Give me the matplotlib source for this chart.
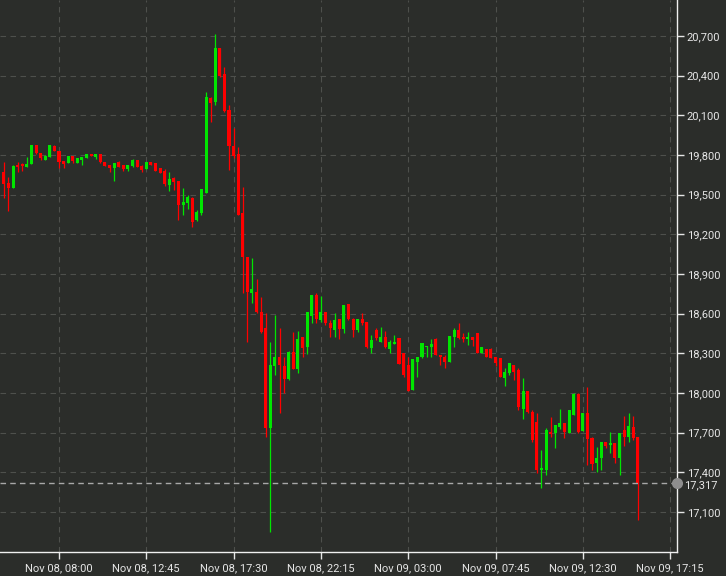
import matplotlib
matplotlib.use('Agg')
import matplotlib.pyplot as plt
import matplotlib.transforms as mtransforms
import numpy as np
import pandas as pd

# 15-minute candles, Nov 08 05:00 onwards
start = '2023-11-08 05:00'
opens = [19673, 19590, 19552, 19724, 19729, 19711, 19729, 19875, 19817, 19762, 19787, 19868,
         19832, 19757, 19737, 19794, 19737, 19760, 19775, 19805, 19787, 19805, 19749, 19724,
         19704, 19745, 19724, 19692, 19717, 19762, 19717, 19692, 19747, 19737, 19699, 19681,
         19573, 19624, 19605, 19422, 19439, 19472, 19308, 19359, 19510, 20229, 20203, 20607,
         20410, 20140, 19868, 19807, 19359, 19031, 18758, 18766, 18615, 18489, 17733, 18204,
         18274, 18204, 18103, 18312, 18179, 18421, 18345, 18582, 18741, 18552, 18615, 18527,
         18476, 18557, 18481, 18673, 18557, 18476, 18557, 18539, 18338, 18476, 18388, 18426,
         18330, 18370, 18413, 18300, 18212, 18022, 18237, 18270, 18345, 18345, 18406, 18287,
         18274, 18237, 18426, 18476, 18426, 18406, 18421, 18451, 18305, 18330, 18330, 18270,
         18262, 18111, 18149, 18212, 18174, 17876, 18017, 17859, 17783, 17417, 17417, 17707,
         17695, 17745, 17775, 17695, 17833, 17992, 17715, 17846, 17659, 17468, 17506, 17631,
         17607, 17619, 17506, 17720, 17667, 17743, 17669]
highs = [19749, 19636, 19724, 19745, 19737, 19782, 19875, 19875, 19817, 19800, 19875, 19875,
         19832, 19757, 19794, 19794, 19779, 19782, 19805, 19805, 19805, 19805, 19749, 19724,
         19742, 19757, 19724, 19724, 19767, 19762, 19724, 19747, 19747, 19737, 19699, 19692,
         19673, 19636, 19605, 19548, 19497, 19484, 19384, 19543, 20279, 20241, 20715, 20607,
         20468, 20178, 20002, 19858, 19560, 19031, 19019, 18860, 18728, 18602, 18388, 18590,
         18489, 18270, 18320, 18463, 18469, 18426, 18615, 18741, 18758, 18733, 18615, 18552,
         18602, 18557, 18665, 18673, 18565, 18557, 18602, 18539, 18438, 18491, 18497, 18471,
         18401, 18438, 18413, 18300, 18274, 18255, 18270, 18376, 18355, 18406, 18413, 18287,
         18287, 18431, 18489, 18531, 18451, 18463, 18421, 18451, 18345, 18330, 18338, 18270,
         18262, 18187, 18224, 18212, 18187, 18111, 18017, 17871, 17849, 17569, 17733, 17820,
         17758, 17876, 17775, 17871, 17998, 17998, 17846, 18043, 17667, 17594, 17631, 17631,
         17707, 17619, 17695, 17826, 17846, 17826, 17669]
lows = [19472, 19376, 19552, 19673, 19679, 19711, 19729, 19805, 19762, 19762, 19782, 19830,
        19699, 19699, 19737, 19742, 19737, 19724, 19775, 19794, 19770, 19737, 19717, 19673,
        19603, 19711, 19681, 19681, 19707, 19707, 19673, 19692, 19726, 19681, 19666, 19565,
        19530, 19535, 19308, 19346, 19389, 19257, 19303, 19346, 19510, 20052, 20178, 20392,
        20127, 19686, 19775, 19346, 18754, 18388, 18678, 18603, 18451, 17669, 16951, 18136,
        17846, 17998, 18098, 18179, 18153, 18270, 18295, 18527, 18531, 18539, 18514, 18426,
        18426, 18406, 18454, 18552, 18426, 18463, 18514, 18338, 18305, 18401, 18383, 18338,
        18305, 18370, 18219, 18123, 18017, 18022, 18123, 18262, 18274, 18274, 18287, 18212,
        18187, 18237, 18350, 18411, 18388, 18363, 18355, 18300, 18305, 18270, 18262, 18204,
        18123, 18053, 18136, 18098, 17871, 17801, 17846, 17631, 17392, 17279, 17380, 17669,
        17582, 17725, 17657, 17695, 17833, 17695, 17715, 17455, 17417, 17405, 17417, 17584,
        17544, 17470, 17380, 17599, 17629, 17644, 17039]
closes = [19578, 19548, 19717, 19711, 19719, 19732, 19875, 19813, 19775, 19794, 19875, 19830,
          19749, 19732, 19794, 19757, 19779, 19782, 19805, 19794, 19805, 19745, 19719, 19704,
          19742, 19711, 19692, 19724, 19762, 19707, 19686, 19747, 19726, 19681, 19666, 19580,
          19618, 19598, 19422, 19447, 19484, 19295, 19371, 19543, 20241, 20195, 20607, 20400,
          20133, 19868, 19792, 19346, 19026, 18766, 18784, 18615, 18463, 17733, 18212, 18274,
          18212, 18103, 18312, 18179, 18406, 18338, 18615, 18741, 18557, 18610, 18527, 18489,
          18552, 18481, 18665, 18557, 18476, 18557, 18527, 18350, 18401, 18416, 18421, 18350,
          18388, 18388, 18219, 18136, 18017, 18255, 18270, 18376, 18355, 18370, 18287, 18274,
          18237, 18431, 18476, 18413, 18406, 18421, 18401, 18305, 18345, 18270, 18262, 18224,
          18123, 18161, 18224, 18161, 17894, 18017, 17859, 17644, 17417, 17430, 17720, 17690,
          17758, 17775, 17707, 17871, 17992, 17707, 17846, 17650, 17463, 17506, 17631, 17599,
          17619, 17506, 17695, 17667, 17750, 17659, 17317]

tick_times = ['2023-11-08 08:00', '2023-11-08 12:45', '2023-11-08 17:30', '2023-11-08 22:15',
              '2023-11-09 03:00', '2023-11-09 07:45', '2023-11-09 12:30', '2023-11-09 17:15']
tick_labels = ['Nov 08, 08:00', 'Nov 08, 12:45', 'Nov 08, 17:30', 'Nov 08, 22:15',
               'Nov 09, 03:00', 'Nov 09, 07:45', 'Nov 09, 12:30', 'Nov 09, 17:15']
y_ticks = list(range(17100, 20701, 300))
last_price = 17317

bg = '#2b2d2a'
up_color = '#00e600'
down_color = '#ff0000'
text_color = '#e6e6e6'
font_size = 8

o = np.array(opens, float)
h = np.array(highs, float)
l = np.array(lows, float)
c = np.array(closes, float)
step = pd.Timedelta('15min')
x = np.arange(len(o))
tick_pos = [(pd.Timestamp(t) - pd.Timestamp(start)) / step for t in tick_times]

fig = plt.figure(figsize=(7.26, 5.76), dpi=100, facecolor=bg)
ax = fig.add_axes([0.0, 0.0417, 0.9325, 0.9583], facecolor=bg)

colors = np.where(c >= o, up_color, down_color)
ax.vlines(x, l, h, colors=colors, linewidth=0.9, zorder=3)
body = np.maximum(np.abs(c - o), 4)
ax.bar(x, body, bottom=np.minimum(o, c), width=0.66, color=colors, linewidth=0, zorder=4)

# last price line, marker and label
ax.axhline(last_price, color='#a8a8a8', linestyle=(0, (4, 3)), linewidth=1, zorder=5)
trans = mtransforms.blended_transform_factory(ax.transAxes, ax.transData)
ax.plot([1.0], [last_price], 'o', color='#8e8e8e', markersize=7, transform=trans,
        clip_on=False, zorder=6)
ax.annotate(f'{last_price:,}', xy=(1.0, last_price), xycoords=trans,
            xytext=(5.2, -1), textcoords='offset points', color=text_color,
            fontsize=font_size, family='Roboto', va='center', ha='left')

ax.set_xlim(-0.84, 146.5)
ax.set_ylim(16798, 20972)

ax.set_xticks(tick_pos)
ax.set_xticklabels(tick_labels)
ax.set_yticks(y_ticks)
ax.set_yticklabels([f'{v:,}' for v in y_ticks])
ax.yaxis.tick_right()

for lab in ax.get_xticklabels() + ax.get_yticklabels():
    lab.set_family('Roboto')
    lab.set_fontsize(font_size)
    lab.set_color(text_color)

ax.tick_params(axis='both', colors=text_color, length=5, width=1, direction='out')
ax.tick_params(axis='y', pad=2)
ax.tick_params(axis='x', pad=3)

for side in ['left', 'top']:
    ax.spines[side].set_visible(False)
for side in ['right', 'bottom']:
    ax.spines[side].set_color('#f0f0f0')
    ax.spines[side].set_linewidth(1)

ax.set_axisbelow(True)
ax.grid(True, color='#4e504c', linestyle=(0, (5, 4)), linewidth=0.8)

plt.savefig('out.png', dpi=100, facecolor=bg)
plt.close()
